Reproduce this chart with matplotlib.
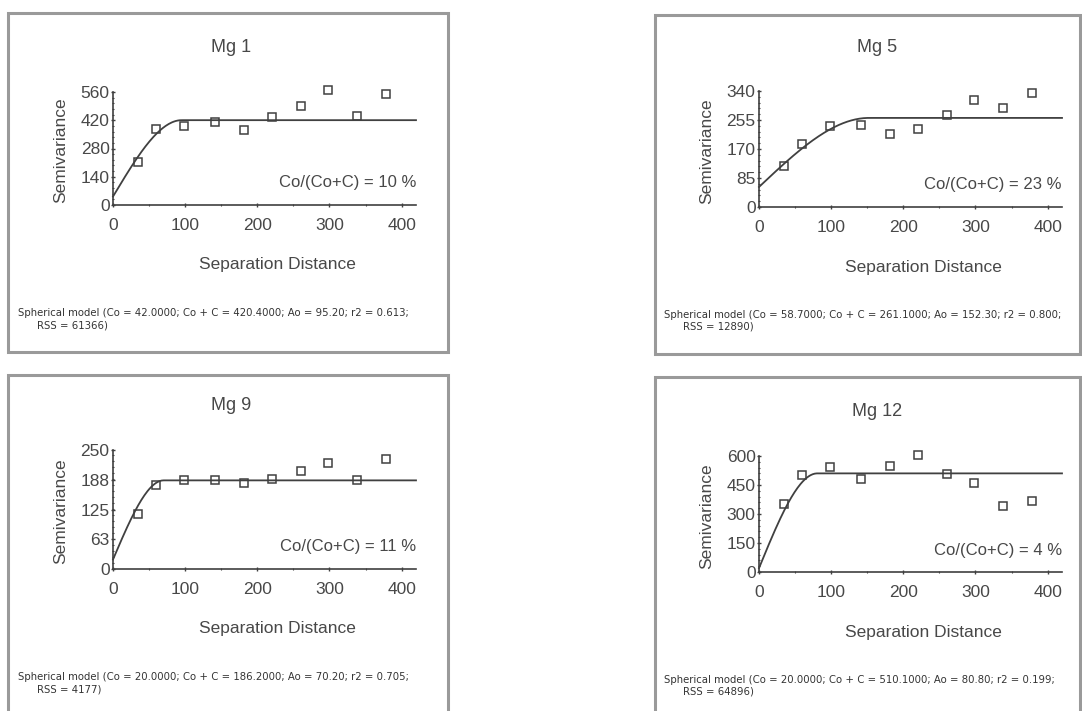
import numpy as np
import matplotlib.pyplot as plt
from matplotlib.patches import Rectangle

W, H = 1082, 711

# lag distances (same for all four variograms)
lags = [35, 59, 99, 141, 182, 221, 260, 298, 338, 379]

titles = ["Mg 1", "Mg 5", "Mg 9", "Mg 12"]

gamma_mg1 = [214, 379, 390, 412, 374, 437, 489, 572, 440, 552]
gamma_mg5 = [120, 186, 237, 240, 213, 230, 271, 313, 290, 334]
gamma_mg9 = [116, 177, 188, 188, 181, 189, 206, 222, 186, 232]
gamma_mg12 = [351, 502, 545, 479, 548, 606, 505, 459, 341, 369]

# spherical model parameters: nugget Co, sill Co+C, range Ao
nugget = [42.0, 58.7, 20.0, 20.0]
sill = [420.4, 261.1, 186.2, 510.1]
range_a = [95.2, 152.3, 70.2, 80.8]
r2 = [0.613, 0.800, 0.705, 0.199]
rss = [61366, 12890, 4177, 64896]
ratio_pct = [10, 23, 11, 4]

yticks = [
    [0, 140, 280, 420, 560],
    [0, 85, 170, 255, 340],
    [0, 63, 125, 188, 250],
    [0, 150, 300, 450, 600],
]
xticks = [0, 100, 200, 300, 400]

# pixel boxes: (left, right, top, bottom)
panel_px = [(8, 448, 13, 352), (655, 1080, 15, 354), (8, 448, 375, 716), (655, 1080, 377, 716)]
axes_px = [(113, 416, 92, 205), (759, 1062, 91, 207), (113, 416, 450, 569), (759, 1062, 456, 572)]

TXT = "#484848"
LN = "#404040"

plt.rcParams['font.family'] = ['Liberation Sans', 'DejaVu Sans']


def fx(px):
    return px / W


def fy(py):
    return 1 - py / H


def spherical(h, co, s, a):
    h = np.asarray(h, dtype=float)
    c = s - co
    g = co + c * (1.5 * h / a - 0.5 * (h / a) ** 3)
    return np.where(h < a, g, s)


fig = plt.figure(figsize=(W / 100, H / 100), dpi=100)
fig.patch.set_facecolor("white")

series = [gamma_mg1, gamma_mg5, gamma_mg9, gamma_mg12]

for i in range(4):
    pl, pr, pt, pb = panel_px[i]
    fig.patches.append(Rectangle((fx(pl), fy(pb)), fx(pr - pl), (pb - pt) / H,
                                 transform=fig.transFigure, fill=False,
                                 edgecolor="#9a9a9a", linewidth=2.2))

    l, r, t, b = axes_px[i]
    ax = fig.add_axes([fx(l), fy(b), fx(r - l), (b - t) / H])
    ax.set_xlim(0, 420)
    ax.set_ylim(0, yticks[i][-1])
    for s in ["top", "right"]:
        ax.spines[s].set_visible(False)
    for s in ["left", "bottom"]:
        ax.spines[s].set_color(LN)
        ax.spines[s].set_linewidth(1.2)

    h = np.linspace(0, 420, 300)
    ax.plot(h, spherical(h, nugget[i], sill[i], range_a[i]), color=LN, lw=1.3, clip_on=False)
    ax.plot(lags, series[i], ls="none", marker="s", ms=6, mfc="none",
            mec=LN, mew=1.1, clip_on=False)

    ax.set_xticks(xticks)
    ax.set_yticks(yticks[i])
    step = yticks[i][1] / 5
    ax.set_yticks(np.arange(0, yticks[i][-1] + 0.1, step), minor=True)
    ax.set_xticks(np.arange(0, 421, 50), minor=True)
    ax.tick_params(axis="both", which="major", direction="inout", length=3,
                   width=1, color=LN, labelsize=12.5, labelcolor=TXT)
    ax.tick_params(axis="y", which="major", pad=1)
    ax.tick_params(axis="x", which="major", pad=8)
    ax.tick_params(axis="both", which="minor", direction="inout", length=2,
                   width=0.8, color=LN)
    ax.set_xticklabels([str(v) for v in xticks])
    ax.set_yticklabels([str(v) for v in yticks[i]])

    fig.text(fx(l + 118), fy(t - 44), titles[i], ha="center", va="center",
             fontsize=13, color=TXT)
    fig.text(fx(l - 52), fy((t + b) / 2 + 2), "Semivariance", rotation=90,
             ha="center", va="center", fontsize=12.5, color=TXT)
    fig.text(fx(l + 164), fy(b + 60), "Separation Distance", ha="center",
             va="center", fontsize=12.5, color=TXT)
    fig.text(fx(r), fy(b - 22), f"Co/(Co+C) = {ratio_pct[i]} %", ha="right",
             va="center", fontsize=12, color=TXT)

    note1 = (f"Spherical model (Co = {nugget[i]:.4f}; Co + C = {sill[i]:.4f}; "
             f"Ao = {range_a[i]:.2f}; r2 = {r2[i]:.3f};")
    note2 = f"RSS = {rss[i]})"
    fig.text(fx(l - 95), fy(b + 108), note1, ha="left", va="center",
             fontsize=7.3, color="#333333", family="DejaVu Sans")
    fig.text(fx(l - 76), fy(b + 120), note2, ha="left", va="center",
             fontsize=7.3, color="#333333", family="DejaVu Sans")

fig.savefig("out.png", dpi=100)
